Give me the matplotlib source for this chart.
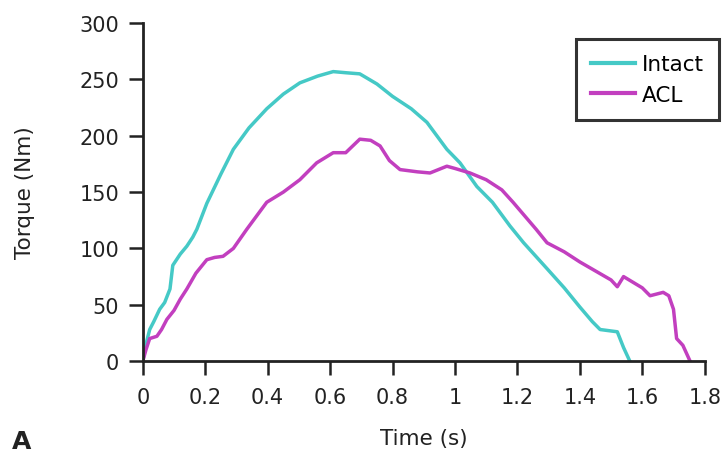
import matplotlib
matplotlib.use("Agg")
import matplotlib.pyplot as plt

plt.rcParams['font.family'] = ['DejaVu Sans']

# Intact knee torque curve
intact_t = [0, 0.01, 0.022, 0.035, 0.054, 0.07, 0.087, 0.096, 0.12, 0.141, 0.16,
            0.173, 0.205, 0.25, 0.29, 0.34, 0.397, 0.45, 0.503, 0.56, 0.61, 0.65,
            0.695, 0.75, 0.80, 0.86, 0.91, 0.974, 1.016, 1.07, 1.12, 1.176, 1.22,
            1.295, 1.35, 1.4, 1.44, 1.465, 1.52, 1.54, 1.56]
intact_v = [0, 15, 28, 35, 46, 52, 64, 85, 95, 102, 110,
            117, 140, 166, 188, 207, 224, 237, 247, 253, 257, 256,
            255, 246, 235, 224, 212, 188, 176, 155, 141, 120, 105,
            82, 65, 48, 35, 28, 26, 12, 0]

# ACL-deficient knee torque curve
acl_t = [0, 0.01, 0.022, 0.045, 0.06, 0.077, 0.1, 0.12, 0.141, 0.17, 0.205, 0.23,
         0.257, 0.29, 0.333, 0.397, 0.45, 0.503, 0.557, 0.61, 0.65, 0.695, 0.73,
         0.76, 0.79, 0.824, 0.88, 0.92, 0.974, 1.0, 1.048, 1.10, 1.15, 1.186,
         1.26, 1.295, 1.35, 1.4, 1.45, 1.5, 1.52, 1.54, 1.57, 1.6, 1.625, 1.667,
         1.685, 1.70, 1.71, 1.73, 1.753]
acl_v = [0, 10, 20, 22, 28, 37, 45, 55, 64, 78, 90, 92,
         93, 100, 117, 141, 150, 161, 176, 185, 185, 197, 196,
         191, 178, 170, 168, 167, 173, 171, 167, 161, 152, 141,
         117, 105, 97, 88, 80, 72, 66, 75, 70, 65, 58, 61,
         58, 46, 20, 14, 0]

x_ticks = [0, 0.2, 0.4, 0.6, 0.8, 1, 1.2, 1.4, 1.6, 1.8]
x_labels = ['0', '0.2', '0.4', '0.6', '0.8', '1', '1.2', '1.4', '1.6', '1.8']
y_ticks = [0, 50, 100, 150, 200, 250, 300]

ink = '#222222'

fig = plt.figure(figsize=(7.25, 4.56), dpi=100)
ax = fig.add_axes([0.197, 0.206, 0.775, 0.741])

ax.plot(intact_t, intact_v, color='#45c9c6', lw=2.5, label='Intact')
ax.plot(acl_t, acl_v, color='#c23fbf', lw=2.5, label='ACL')

ax.set_xlim(0, 1.8)
ax.set_ylim(0, 300)
ax.set_xticks(x_ticks)
ax.set_xticklabels(x_labels)
ax.set_yticks(y_ticks)

for s in ['top', 'right']:
    ax.spines[s].set_visible(False)
for s in ['left', 'bottom']:
    ax.spines[s].set_linewidth(2)
    ax.spines[s].set_color(ink)
ax.tick_params(direction='out', length=10, width=1.8, labelsize=15,
               colors=ink)
ax.tick_params(axis='x', pad=9)
ax.tick_params(axis='y', pad=7)

ax.set_xlabel('Time (s)', fontsize=15.5, color=ink)
ax.set_ylabel('Torque (Nm)', fontsize=15.5, color=ink)
ax.xaxis.set_label_coords(0.5, -0.198)
ax.yaxis.set_label_coords(-0.21, 0.5)
ax.yaxis.label.set_va('center')

leg = ax.legend(loc='upper right', bbox_to_anchor=(1.025, 0.953), fontsize=15.5,
                frameon=True, fancybox=False, handlelength=2.05,
                handletextpad=0.3, borderpad=0.7, labelspacing=0.5,
                borderaxespad=0)
leg.get_frame().set_edgecolor('black')
leg.get_frame().set_linewidth(2.2)
for h in leg.get_lines():
    h.set_linewidth(3)

fig.text(0.016, 0.058, 'A', fontsize=18, fontweight='bold', color=ink,
         va='top', ha='left')

fig.savefig('out.png', dpi=100)
